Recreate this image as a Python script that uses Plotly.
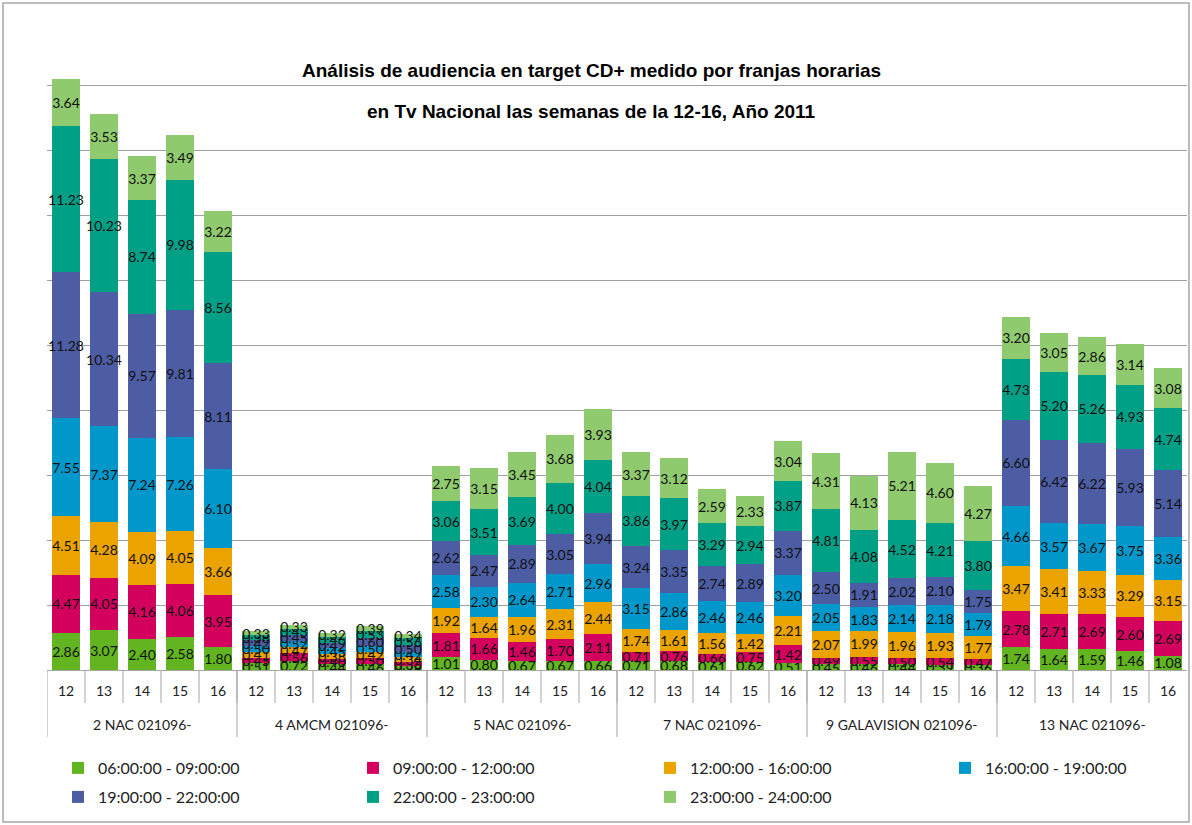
import plotly.graph_objects as go

# ---------------- data ----------------
channels = ["2 NAC 021096-", "4 AMCM 021096-", "5 NAC 021096-",
            "7 NAC 021096-", "9 GALAVISION 021096-", "13 NAC 021096-"]
weeks = ["12", "13", "14", "15", "16"]

franjas = ["06:00:00 - 09:00:00", "09:00:00 - 12:00:00", "12:00:00 - 16:00:00",
           "16:00:00 - 19:00:00", "19:00:00 - 22:00:00", "22:00:00 - 23:00:00",
           "23:00:00 - 24:00:00"]

s_06_09 = [2.86, 3.07, 2.40, 2.58, 1.80,  0.51, 0.72, 0.44, 0.46, 0.28,
           1.01, 0.80, 0.67, 0.67, 0.66,  0.71, 0.68, 0.61, 0.62, 0.51,
           0.45, 0.46, 0.44, 0.39, 0.36,  1.74, 1.64, 1.59, 1.46, 1.08]
s_09_12 = [4.47, 4.05, 4.16, 4.06, 3.95,  0.45, 0.56, 0.40, 0.50, 0.36,
           1.81, 1.66, 1.46, 1.70, 2.11,  0.71, 0.76, 0.66, 0.75, 1.42,
           0.49, 0.55, 0.50, 0.54, 0.47,  2.78, 2.71, 2.69, 2.60, 2.69]
s_12_16 = [4.51, 4.28, 4.09, 4.05, 3.66,  0.41, 0.47, 0.38, 0.42, 0.34,
           1.92, 1.64, 1.96, 2.31, 2.44,  1.74, 1.61, 1.56, 1.42, 2.21,
           2.07, 1.99, 1.96, 1.93, 1.77,  3.47, 3.41, 3.33, 3.29, 3.15]
s_16_19 = [7.55, 7.37, 7.24, 7.26, 6.10,  0.50, 0.52, 0.45, 0.50, 0.42,
           2.58, 2.30, 2.64, 2.71, 2.96,  3.15, 2.86, 2.46, 2.46, 3.20,
           2.05, 1.83, 2.14, 2.18, 1.79,  4.66, 3.57, 3.67, 3.75, 3.36]
s_19_22 = [11.28, 10.34, 9.57, 9.81, 8.11,  0.42, 0.45, 0.42, 0.60, 0.50,
           2.62, 2.47, 2.89, 3.05, 3.94,  3.24, 3.35, 2.74, 2.89, 3.37,
           2.50, 1.91, 2.02, 2.10, 1.75,  6.60, 6.42, 6.22, 5.93, 5.14]
s_22_23 = [11.23, 10.23, 8.74, 9.98, 8.56,  0.38, 0.43, 0.46, 0.53, 0.56,
           3.06, 3.51, 3.69, 4.00, 4.04,  3.86, 3.97, 3.29, 2.94, 3.87,
           4.81, 4.08, 4.52, 4.21, 3.80,  4.73, 5.20, 5.26, 4.93, 4.74]
s_23_24 = [3.64, 3.53, 3.37, 3.49, 3.22,  0.33, 0.33, 0.32, 0.39, 0.34,
           2.75, 3.15, 3.45, 3.68, 3.93,  3.37, 3.12, 2.59, 2.33, 3.04,
           4.31, 4.13, 5.21, 4.60, 4.27,  3.20, 3.05, 2.86, 3.14, 3.08]

series = [s_06_09, s_09_12, s_12_16, s_16_19, s_19_22, s_22_23, s_23_24]
colors = ["#62B420", "#D3005D", "#EBA300", "#0098CB", "#4D5DA4", "#00A087", "#8FCB6E"]

# ---------------- layout constants ----------------
W, H = 1192, 825
ML, MR, MT, MB = 47, 5, 21, 155
PW, PH = W - ML - MR, H - MT - MB

def py(px_y):  # figure pixel y -> paper y
    return (H - MB - px_y) / PH

def pxx(px_x):  # figure pixel x -> paper x
    return (px_x - ML) / PW

n_w = len(weeks)
x_idx = list(range(len(channels) * n_w))
tick_text = [w for _ in channels for w in weeks]

# legend slots (pixel anchors): 4 columns x 2 rows
legend_cols = [58, 353, 650, 945]
legend_rows = [768, 797]

fig = go.Figure()
legend_layout = {}
for i, (name, vals, col) in enumerate(zip(franjas, series, colors)):
    lid = "legend" if i == 0 else f"legend{i + 1}"
    fig.add_trace(go.Bar(
        x=x_idx, y=vals, name=name,
        marker=dict(color=col, line=dict(width=0)),
        texttemplate="%{y:.2f}", textposition="inside", insidetextanchor="middle",
        textangle=0, textfont=dict(color="#111111", size=14, family="Lato"),
        legend=lid,
    ))
    legend_layout[lid] = dict(
        x=pxx(legend_cols[i % 4]), y=py(legend_rows[i // 4]),
        xanchor="left", yanchor="middle", orientation="h",
        font=dict(family="Lato", size=16, color="#222222"),
        bgcolor="rgba(0,0,0,0)")

shapes = []
# inner week boundaries
for i in range(1, len(x_idx)):
    shapes.append(dict(type="line", xref="x", yref="paper", x0=i - 0.5, x1=i - 0.5,
                       y0=0, y1=py(H - MB + 33), line=dict(color="#A6A6A6", width=1)))
# group dividers
for g in range(len(channels)):
    xb = g * n_w - 0.5
    shapes.append(dict(type="line", xref="x", yref="paper", x0=xb, x1=xb,
                       y0=0, y1=py(H - MB + 67), line=dict(color="#A6A6A6", width=1)))
# chart border
shapes.append(dict(type="rect", xref="paper", yref="paper",
                   x0=pxx(3), x1=pxx(1189), y0=py(822), y1=py(3),
                   line=dict(color="#A6A6A6", width=1.5), layer="below"))

annotations = []
for g, ch in enumerate(channels):
    annotations.append(dict(x=g * n_w + (n_w - 1) / 2, y=py(724), xref="x", yref="paper",
                            text=ch, showarrow=False, yanchor="middle",
                            font=dict(family="Lato", size=14, color="#222222")))
annotations.append(dict(x=pxx(591), y=py(70), xref="paper", yref="paper",
                        text="<b>Análisis de audiencia en target CD+ medido por franjas horarias</b>",
                        showarrow=False, yanchor="middle",
                        font=dict(family="Liberation Sans", size=19, color="#000000")))
annotations.append(dict(x=pxx(591), y=py(112), xref="paper", yref="paper",
                        text="<b>en Tv Nacional las semanas de la 12-16, Año 2011</b>",
                        showarrow=False, yanchor="middle",
                        font=dict(family="Liberation Sans", size=19, color="#000000")))

fig.update_layout(
    width=W, height=H,
    margin=dict(l=ML, r=MR, t=MT, b=MB),
    paper_bgcolor="white", plot_bgcolor="white",
    barmode="stack", bargap=0.25,
    uniformtext=dict(minsize=14, mode="show"),
    showlegend=True,
    xaxis=dict(range=[-0.5, len(x_idx) - 0.5], tickmode="array", tickvals=x_idx,
               ticktext=tick_text, ticks="", showgrid=False, zeroline=False,
               showline=True, linecolor="#A6A6A6", linewidth=1,
               ticklabelstandoff=8,
               tickfont=dict(family="Lato", size=14, color="#222222")),
    yaxis=dict(range=[0, 50], dtick=5, showticklabels=False, ticks="",
               showgrid=True, gridcolor="#A0A0A0", gridwidth=1, zeroline=False),
    shapes=shapes, annotations=annotations,
    **legend_layout,
)

fig.write_html("out.html")
